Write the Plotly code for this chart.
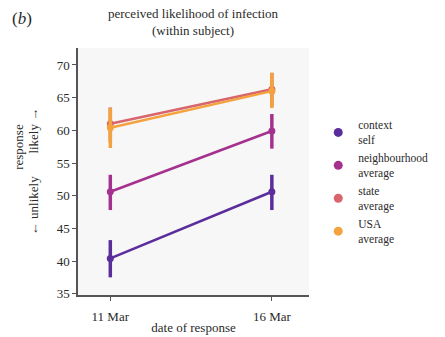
import plotly.graph_objects as go

dates = ["11 Mar", "16 Mar"]
series_names = ["context<br>self", "neighbourhood<br>average", "state<br>average", "USA<br>average"]
colors = ["#5b2d9c", "#a5318f", "#d8646c", "#f3a23d"]
means = [
    [40.4, 50.6],
    [50.6, 59.9],
    [61.0, 66.3],
    [60.4, 66.0],
]
err_plus = [
    [2.8, 2.6],
    [2.6, 2.6],
    [2.5, 2.5],
    [3.0, 2.8],
]
err_minus = [
    [2.9, 2.8],
    [2.8, 2.7],
    [2.8, 2.6],
    [3.1, 2.6],
]

FONT = "Liberation Serif, Times New Roman, serif"
TXT = "#2a2a2a"
fig = go.Figure()
for name, c, m, ep, em in zip(series_names, colors, means, err_plus, err_minus):
    fig.add_trace(go.Scatter(
        x=[0, 1], y=m, mode="lines+markers",
        line=dict(color=c, width=2.5),
        marker=dict(color=c, size=7),
        error_y=dict(type="data", array=ep, arrayminus=em, color=c, thickness=3.5, width=0),
        showlegend=False,
    ))
for name, c in zip(series_names, colors):
    fig.add_trace(go.Scatter(
        x=[None], y=[None], mode="markers", name=name,
        marker=dict(color=c, size=9),
    ))

fig.update_layout(
    width=445, height=337,
    margin=dict(l=78, r=127, t=48, b=42),
    paper_bgcolor="white", plot_bgcolor="#f7f7f7",
    font=dict(family=FONT, size=13, color=TXT),
    showlegend=True,
    legend=dict(x=1.04, y=0.745, xanchor="left", yanchor="top",
                font=dict(family=FONT, size=11.5, color=TXT),
                bgcolor="rgba(0,0,0,0)", itemwidth=30, tracegroupgap=0,
                valign="middle"),
    xaxis=dict(range=[-0.2, 1.23], tickvals=[0, 1], ticktext=dates, automargin=False,
               showgrid=False, zeroline=False, showline=True, linecolor="#555555", linewidth=1.5,
               ticks="outside", ticklen=4, tickcolor="#555555", ticklabelstandoff=5,
               tickfont=dict(family=FONT, size=13, color=TXT),
               title=dict(text="date of response", font=dict(family=FONT, size=13, color=TXT), standoff=0)),
    yaxis=dict(range=[34.8, 72.6], tickvals=[35, 40, 45, 50, 55, 60, 65, 70], automargin=False,
               showgrid=False, zeroline=False, showline=True, linecolor="#555555", linewidth=1.5,
               ticks="outside", ticklen=4, tickcolor="#555555",
               tickfont=dict(family=FONT, size=13, color=TXT)),
)
fig.add_annotation(text="perceived likelihood of infection<br>(within subject)",
                   x=0.5, y=1.0, xref="paper", yref="paper", yanchor="bottom", yshift=8,
                   showarrow=False, font=dict(family=FONT, size=13, color=TXT))
fig.add_annotation(text="(<i>b</i>)", x=(20 - 78) / 240, y=1.0, xref="paper", yref="paper",
                   xanchor="center", yanchor="bottom", yshift=18, showarrow=False,
                   font=dict(family=FONT, size=17, color=TXT))
fig.add_annotation(text="response", textangle=-90, x=(16 - 78) / 240, y=0.5, xref="paper", yref="paper",
                   xanchor="center", yanchor="middle",
                   yshift=25, showarrow=False, font=dict(family=FONT, size=13, color=TXT))
fig.add_annotation(text="← unlikely       likely →", textangle=-90, x=(32 - 78) / 240, y=0.5,
                   xref="paper", yref="paper", xanchor="center", yanchor="middle", showarrow=False,
                   font=dict(family=FONT, size=13, color=TXT))

fig.write_html("out.html")
